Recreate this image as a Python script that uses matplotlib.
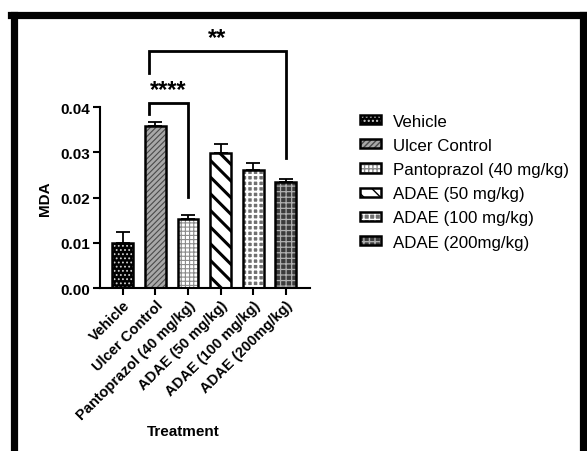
import matplotlib
matplotlib.use("Agg")
import matplotlib.pyplot as plt
from matplotlib.patches import Patch
from matplotlib.lines import Line2D

plt.rcParams['font.family'] = ['Liberation Sans', 'DejaVu Sans']

groups = ["Vehicle", "Ulcer Control", "Pantoprazol (40 mg/kg)", "ADAE (50 mg/kg)",
          "ADAE (100 mg/kg)", "ADAE (200mg/kg)"]
mda = [0.0100, 0.0359, 0.0153, 0.0299, 0.0260, 0.0234]
sem = [0.0024, 0.0009, 0.0009, 0.0020, 0.0017, 0.0007]

# bar looks: face colour, hatch, hatch colour
faces = ["black", "#a8a8a8", "white", "white", "#707070", "#3c3c3c"]
hatches = ["....", "//////", "++++", "\\\\", "+++", "+++"]
hatch_cols = ["#d0d0d0", "#4a4a4a", "#8a8a8a", "black", "white", "#b0b0b0"]
hatch_lws = [0.8, 0.8, 0.8, 2.2, 1.5, 0.9]

# significance brackets: (left group, right group, label, top y, left leg end, right leg end)
brackets = [(1, 2, "****", 0.0409, 0.0385, 0.0201),
            (1, 5, "**", 0.0523, 0.0476, 0.0288)]

fig = plt.figure(figsize=(5.87, 4.52), dpi=100)
ax = fig.add_axes([0.170, 0.3606, 0.358, 0.4004])

x = list(range(len(groups)))
w = 0.64
for i in x:
    b = ax.bar(i, mda[i], width=w, color=faces[i], hatch=hatches[i],
               edgecolor=hatch_cols[i], linewidth=0, zorder=2)
    for p in b:
        p.set_hatch_linewidth(hatch_lws[i])
    ax.bar(i, mda[i], width=w, fill=False, edgecolor="black", linewidth=1.8, zorder=3)

ax.errorbar(x, mda, yerr=[[0] * len(x), sem], fmt="none", ecolor="black",
            elinewidth=1.3, capsize=5, capthick=1.3, zorder=1)

for l, r, lab, top, yl, yr in brackets:
    xl = l - 0.2
    ax.plot([xl, xl, r, r], [yl, top, top, yr], color="black", lw=2.0,
            clip_on=False, solid_joinstyle="miter")
    ax.text((xl + r) / 2, top + 0.0005, lab, ha="center", va="bottom",
            fontsize=17, fontweight="bold", clip_on=False)

ax.set_xlim(-0.705, 5.74)
ax.set_ylim(0, 0.04)
ax.set_yticks([0.00, 0.01, 0.02, 0.03, 0.04])
ax.set_yticklabels(["0.00", "0.01", "0.02", "0.03", "0.04"], fontweight="bold", fontsize=11)
ax.set_xticks(x)
ax.set_xticklabels(groups, rotation=45, ha="right", rotation_mode="anchor",
                   fontweight="bold", fontsize=10.5)
ax.tick_params(axis="both", width=1.5, length=5, color="black", pad=2)
for s in ["top", "right"]:
    ax.spines[s].set_visible(False)
for s in ["left", "bottom"]:
    ax.spines[s].set_linewidth(1.5)
ax.set_ylabel("MDA", fontweight="bold", fontsize=11, labelpad=6)

fig.text(183 / 587, 1 - 432 / 452, "Treatment", ha="center", va="center",
         fontweight="bold", fontsize=11)

handles = []
for i in x:
    hp = Patch(facecolor=faces[i], hatch=hatches[i], edgecolor=hatch_cols[i], linewidth=0)
    bp = Patch(fill=False, edgecolor="black", linewidth=1.8)
    handles.append((hp, bp))
fig.legend(handles, groups, loc="upper left", bbox_to_anchor=(353 / 587, 1 - 108 / 452),
           frameon=False, fontsize=12.2, handlelength=1.25, handleheight=0.45,
           handletextpad=0.7, labelspacing=0.54, borderaxespad=0)

# thick black frame (top, left, right)
for xs, ys in [([14, 14], [452, 15.5]), ([10.5, 586.5], [15.5, 15.5]), ([583, 583], [15.5, 452])]:
    fig.add_artist(Line2D([v / 587 for v in xs], [1 - v / 452 for v in ys],
                          transform=fig.transFigure, color="black", lw=5.2))

fig.savefig("out.png", dpi=100)
